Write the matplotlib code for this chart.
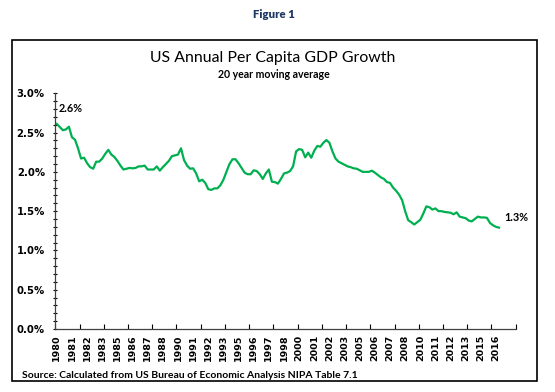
import numpy as np
import matplotlib.pyplot as plt
from matplotlib.patches import Rectangle
from matplotlib.ticker import FixedLocator, MultipleLocator

# 20 year moving average of US per capita GDP growth, quarterly from 1980Q1 (%)
growth = [
    2.61, 2.57, 2.53, 2.54, 2.575, 2.44, 2.41, 2.30,   # 1980-1981
    2.17, 2.18, 2.11, 2.06, 2.04, 2.13, 2.13, 2.17,    # 1982-1983
    2.23, 2.28, 2.22, 2.19, 2.14, 2.08, 2.03, 2.04,    # 1984-1985
    2.05, 2.045, 2.05, 2.07, 2.07, 2.08, 2.03, 2.03,   # 1986-1987
    2.03, 2.07, 2.015, 2.06, 2.10, 2.14, 2.20, 2.21,   # 1988-1989
    2.22, 2.30, 2.15, 2.08, 2.04, 2.045, 1.98, 1.88,   # 1990-1991
    1.90, 1.86, 1.78, 1.77, 1.79, 1.79, 1.83, 1.90,    # 1992-1993
    2.00, 2.10, 2.16, 2.16, 2.11, 2.05, 1.99, 1.97,    # 1994-1995
    1.97, 2.02, 2.01, 1.97, 1.91, 1.98, 2.03, 1.875,   # 1996-1997
    1.87, 1.85, 1.91, 1.98, 1.99, 2.01, 2.07, 2.26,    # 1998-1999
    2.29, 2.28, 2.185, 2.245, 2.18, 2.27, 2.33, 2.32,  # 2000-2001
    2.37, 2.405, 2.37, 2.26, 2.17, 2.13, 2.11, 2.09,   # 2002-2003
    2.07, 2.06, 2.045, 2.04, 2.02, 2.00, 2.00, 2.00,   # 2004-2005
    2.015, 1.99, 1.96, 1.93, 1.91, 1.87, 1.86, 1.80,   # 2006-2007
    1.76, 1.71, 1.64, 1.50, 1.385, 1.36, 1.33, 1.36,   # 2008-2009
    1.39, 1.47, 1.56, 1.55, 1.52, 1.535, 1.50, 1.50,   # 2010-2011
    1.49, 1.485, 1.48, 1.46, 1.485, 1.43, 1.42, 1.41,  # 2012-2013
    1.38, 1.37, 1.40, 1.43, 1.42, 1.42, 1.415, 1.35,   # 2014-2015
    1.32, 1.30, 1.29,                                  # 2016
]
start_year = 1980
n_categories = 152          # category axis runs through 2017Q4
label_every = 5
tickmark_every = 8

x = np.arange(len(growth))
label_pos = np.arange(0, len(growth), label_every)
label_txt = [str(start_year + i // 4) for i in label_pos]

fig = plt.figure(figsize=(5.55, 3.92), dpi=100)
ax = fig.add_axes([55.3 / 555, 1 - 329 / 392, (515.7 - 55.3) / 555, (329 - 93.3) / 392])

ax.plot(x, growth, color='#00B050', lw=1.6, solid_joinstyle='round')

ax.set_xlim(-0.5, n_categories - 0.5)
ax.set_ylim(0, 3.0)

ax.set_xticks(label_pos)
ax.set_xticklabels(label_txt, rotation=90, fontsize=6.8, fontweight='bold')
ax.xaxis.set_minor_locator(FixedLocator(np.arange(0, n_categories + 1, tickmark_every) - 0.5))
ax.tick_params(axis='x', which='major', length=0, pad=4)
ax.tick_params(axis='x', which='minor', length=3.5, direction='in', width=0.8)

ax.yaxis.set_major_locator(MultipleLocator(0.5))
ax.yaxis.set_minor_locator(MultipleLocator(0.1))
ax.set_yticklabels([f'{v:.1f}%' for v in ax.get_yticks()], fontsize=7.3, fontweight='bold')
ax.tick_params(axis='y', which='both', length=3, direction='inout', width=0.8, pad=6)

for s in ['top', 'right']:
    ax.spines[s].set_visible(False)
for s in ['left', 'bottom']:
    ax.spines[s].set_color('#404040')
    ax.spines[s].set_linewidth(0.9)

# end point labels
ax.annotate(f'{growth[0]:.1f}%', (x[0], growth[0]), xytext=(1, 7), textcoords='offset points',
            fontsize=7.8, fontweight='bold', va='bottom', ha='left', family='Lato')
ax.annotate(f'{growth[-1]:.1f}%', (x[-1], growth[-1]), xytext=(4, 3), textcoords='offset points',
            fontsize=7.8, fontweight='bold', va='bottom', ha='left', family='Lato')

fig.text(274 / 555, 1 - 15 / 392, 'Figure 1', ha='center', va='center', fontsize=8.2,
         fontweight='heavy', color='#1F3864', family='Lato')
fig.text(273 / 555, 1 - 58 / 392, 'US Annual Per Capita GDP Growth', ha='center', va='center',
         fontsize=11.4, family='Lato')
fig.text(274 / 555, 1 - 74 / 392, '20 year moving average', ha='center', va='center',
         fontsize=7.6, fontweight='bold', family='Lato')
fig.text(21.7 / 555, 1 - 375 / 392, 'Source: Calculated from US Bureau of Economic Analysis NIPA Table 7.1',
         ha='left', va='center', fontsize=7.5, fontweight='bold', family='Lato')

# chart border
fig.patches.append(Rectangle((12 / 555, 1 - 381 / 392), (537 - 12) / 555, (381 - 40) / 392,
                             transform=fig.transFigure, fill=False, ec='black', lw=1.2))

fig.savefig('out.png', dpi=100)
